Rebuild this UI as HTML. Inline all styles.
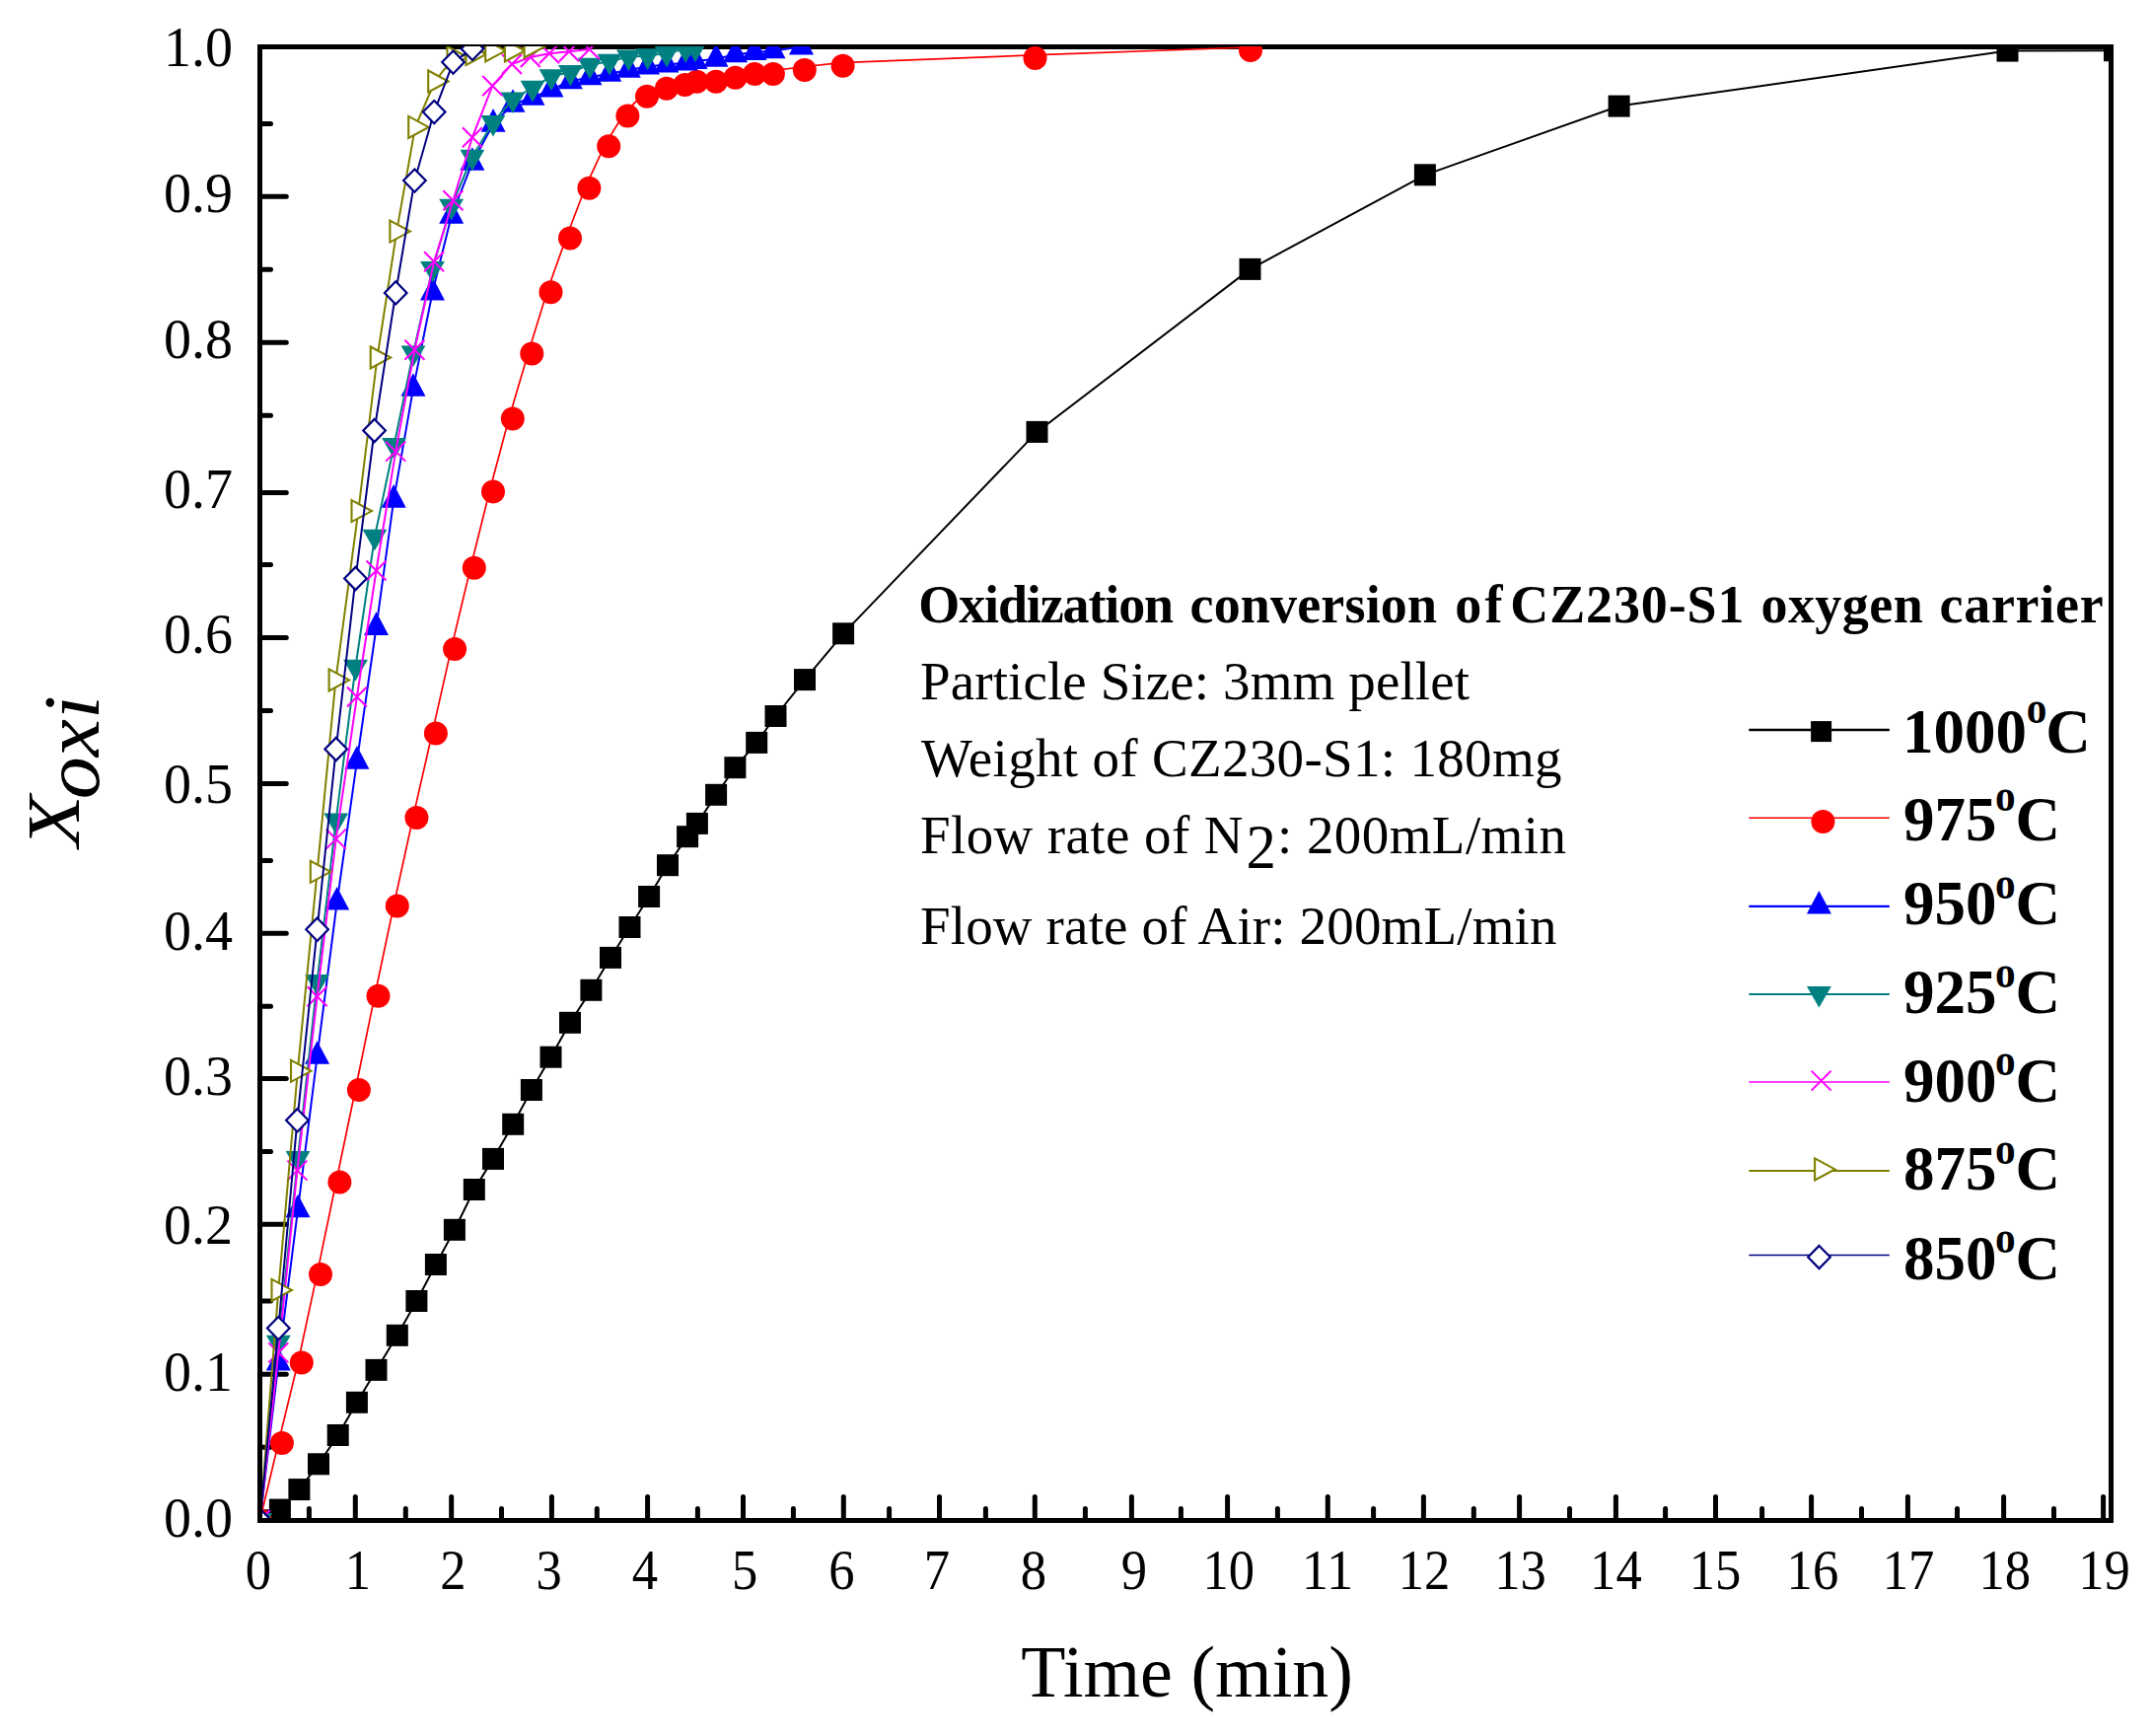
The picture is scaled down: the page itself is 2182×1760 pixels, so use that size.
<!DOCTYPE html>
<html lang="en"><head><meta charset="utf-8"><title>Oxidization conversion of CZ230-S1 oxygen carrier</title>
<style>html,body{margin:0;padding:0;background:#fff;overflow:hidden}svg{display:block}text{font-family:"Liberation Serif",serif;fill:#000}</style>
</head><body>
<svg width="2182" height="1760" viewBox="0 0 2182 1760">
<rect width="2182" height="1760" fill="#fff"/>
<g id="axes" stroke="#000" stroke-width="5" fill="none" shape-rendering="crispEdges">
<rect x="263.5" y="47.5" width="1877.0" height="1493.8"/>
</g>
<g id="ticks" stroke="#000" stroke-width="5" stroke-linecap="round" fill="none">
<path d="M360.3 1541.3V1517.5M457.7 1541.3V1517.5M559.4 1541.3V1517.5M656.6 1541.3V1517.5M753.5 1541.3V1517.5M855.3 1541.3V1517.5M952.5 1541.3V1517.5M1049.3 1541.3V1517.5M1147.4 1541.3V1517.5M1244.6 1541.3V1517.5M1346.3 1541.3V1517.5M1443.4 1541.3V1517.5M1540.6 1541.3V1517.5M1638.4 1541.3V1517.5M1739.5 1541.3V1517.5M1836.6 1541.3V1517.5M1934.4 1541.3V1517.5M2031.6 1541.3V1517.5M2132.6 1541.3V1517.5M313.4 1541.3V1529.5M411.3 1541.3V1529.5M508.5 1541.3V1529.5M605.3 1541.3V1529.5M707.4 1541.3V1529.5M804.4 1541.3V1529.5M901.6 1541.3V1529.5M999.4 1541.3V1529.5M1100.4 1541.3V1529.5M1197.4 1541.3V1529.5M1295.4 1541.3V1529.5M1392.6 1541.3V1529.5M1494.3 1541.3V1529.5M1591.5 1541.3V1529.5M1688.6 1541.3V1529.5M1786.6 1541.3V1529.5M1887.5 1541.3V1529.5M1984.5 1541.3V1529.5M2082.5 1541.3V1529.5M263.5 199.3H290.3M263.5 347.3H290.3M263.5 499.6H290.3M263.5 646.4H290.3M263.5 794.4H290.3M263.5 946.3H290.3M263.5 1093.6H290.3M263.5 1241.3H290.3M263.5 1393.3H290.3M263.5 125.5H274.5M263.5 273.3H274.5M263.5 421.3H274.5M263.5 572.4H274.5M263.5 720.6H274.5M263.5 872.5H274.5M263.5 1020.3H274.5M263.5 1167.5H274.5M263.5 1319H274.5M263.5 1467.3H274.5"/>
</g>
<g id="xlabels" font-size="56" text-anchor="middle">
<text x="261.9" y="1610.6" textLength="26.3" lengthAdjust="spacingAndGlyphs">0</text>
<text x="362.9" y="1610.6" textLength="26.3" lengthAdjust="spacingAndGlyphs">1</text>
<text x="459.3" y="1610.6" textLength="26.3" lengthAdjust="spacingAndGlyphs">2</text>
<text x="556.6" y="1610.6" textLength="26.3" lengthAdjust="spacingAndGlyphs">3</text>
<text x="654" y="1610.6" textLength="26.3" lengthAdjust="spacingAndGlyphs">4</text>
<text x="755.1" y="1610.6" textLength="26.3" lengthAdjust="spacingAndGlyphs">5</text>
<text x="853.3" y="1610.6" textLength="26.3" lengthAdjust="spacingAndGlyphs">6</text>
<text x="949.9" y="1610.6" textLength="26.3" lengthAdjust="spacingAndGlyphs">7</text>
<text x="1047.8" y="1610.6" textLength="26.3" lengthAdjust="spacingAndGlyphs">8</text>
<text x="1149.9" y="1610.6" textLength="26.3" lengthAdjust="spacingAndGlyphs">9</text>
<text x="1245.8" y="1610.6" textLength="52.6" lengthAdjust="spacingAndGlyphs">10</text>
<text x="1346.1" y="1610.6" textLength="52.6" lengthAdjust="spacingAndGlyphs">11</text>
<text x="1444.1" y="1610.6" textLength="52.6" lengthAdjust="spacingAndGlyphs">12</text>
<text x="1541.6" y="1610.6" textLength="52.6" lengthAdjust="spacingAndGlyphs">13</text>
<text x="1638.4" y="1610.6" textLength="52.6" lengthAdjust="spacingAndGlyphs">14</text>
<text x="1739.1" y="1610.6" textLength="52.6" lengthAdjust="spacingAndGlyphs">15</text>
<text x="1837.9" y="1610.6" textLength="52.6" lengthAdjust="spacingAndGlyphs">16</text>
<text x="1935" y="1610.6" textLength="52.6" lengthAdjust="spacingAndGlyphs">17</text>
<text x="2032.8" y="1610.6" textLength="52.6" lengthAdjust="spacingAndGlyphs">18</text>
<text x="2133.6" y="1610.6" textLength="52.6" lengthAdjust="spacingAndGlyphs">19</text>
</g>
<g id="ylabels" font-size="56" text-anchor="end">
<text x="236" y="67.1">1.0</text>
<text x="236" y="215.3">0.9</text>
<text x="236" y="363.3">0.8</text>
<text x="236" y="514.7">0.7</text>
<text x="236" y="662">0.6</text>
<text x="236" y="814.1">0.5</text>
<text x="236" y="962.7">0.4</text>
<text x="236" y="1109.9">0.3</text>
<text x="236" y="1261">0.2</text>
<text x="236" y="1409.6">0.1</text>
<text x="236" y="1558.2">0.0</text>
</g>
<text id="xtitle" x="1203.6" y="1720" font-size="74" text-anchor="middle">Time (min)</text>
<g id="ytitle" transform="translate(80.1,859) rotate(-90)" font-style="italic"><g transform="scale(1.12,1)"><text x="0" y="0" font-size="77">X</text></g><g transform="translate(48.8,19.9) scale(1.075,1)"><text x="0" y="0" font-size="80">oxi</text></g></g>
<defs><clipPath id="clip"><rect x="265.9" y="47.0" width="1872.1" height="1492.1"/></clipPath></defs>
<g id="data" clip-path="url(#clip)">
<polyline fill="none" stroke="#000" stroke-width="2.0" points="263.7,1541.3 283.9,1530.6 303.4,1510.1 323,1484.3 342.7,1455 361.9,1421.8 381.5,1388.9 402.8,1353.8 422.4,1319 441.9,1282 460.9,1246.8 480.8,1206 500,1174.9 520.2,1139.8 538.9,1105 558.5,1071.7 578,1036.8 599.4,1003.8 619,970.9 638.5,940 658.1,909 677,877.2 697.1,848.2 706.9,834.9 726.1,805.8 745.4,778.2 767.2,752.9 786.5,726 816,689.1 855.1,642.3 1051.5,437.9 1267.5,272.9 1444.9,177.3 1641.6,107.6 2035.5,51.6 2144,51.2"/>
<g><rect x="252.7" y="1530.3" width="22" height="22" fill="#000"/><rect x="272.9" y="1519.6" width="22" height="22" fill="#000"/><rect x="292.4" y="1499.1" width="22" height="22" fill="#000"/><rect x="312" y="1473.3" width="22" height="22" fill="#000"/><rect x="331.7" y="1444" width="22" height="22" fill="#000"/><rect x="350.9" y="1410.8" width="22" height="22" fill="#000"/><rect x="370.5" y="1377.9" width="22" height="22" fill="#000"/><rect x="391.8" y="1342.8" width="22" height="22" fill="#000"/><rect x="411.4" y="1308" width="22" height="22" fill="#000"/><rect x="430.9" y="1271" width="22" height="22" fill="#000"/><rect x="449.9" y="1235.8" width="22" height="22" fill="#000"/><rect x="469.8" y="1195" width="22" height="22" fill="#000"/><rect x="489" y="1163.9" width="22" height="22" fill="#000"/><rect x="509.2" y="1128.8" width="22" height="22" fill="#000"/><rect x="527.9" y="1094" width="22" height="22" fill="#000"/><rect x="547.5" y="1060.7" width="22" height="22" fill="#000"/><rect x="567" y="1025.8" width="22" height="22" fill="#000"/><rect x="588.4" y="992.8" width="22" height="22" fill="#000"/><rect x="608" y="959.9" width="22" height="22" fill="#000"/><rect x="627.5" y="929" width="22" height="22" fill="#000"/><rect x="647.1" y="898" width="22" height="22" fill="#000"/><rect x="666" y="866.2" width="22" height="22" fill="#000"/><rect x="686.1" y="837.2" width="22" height="22" fill="#000"/><rect x="695.9" y="823.9" width="22" height="22" fill="#000"/><rect x="715.1" y="794.8" width="22" height="22" fill="#000"/><rect x="734.4" y="767.2" width="22" height="22" fill="#000"/><rect x="756.2" y="741.9" width="22" height="22" fill="#000"/><rect x="775.5" y="715" width="22" height="22" fill="#000"/><rect x="805" y="678.1" width="22" height="22" fill="#000"/><rect x="844.1" y="631.3" width="22" height="22" fill="#000"/><rect x="1040.5" y="426.9" width="22" height="22" fill="#000"/><rect x="1256.5" y="261.9" width="22" height="22" fill="#000"/><rect x="1433.9" y="166.3" width="22" height="22" fill="#000"/><rect x="1630.6" y="96.6" width="22" height="22" fill="#000"/><rect x="2024.5" y="40.6" width="22" height="22" fill="#000"/><rect x="2133" y="40.2" width="22" height="22" fill="#000"/></g>
<polyline fill="none" stroke="#f00" stroke-width="1.7" points="263.7,1541.3 282.9,1460.1 302.8,1378.5 322,1289.1 341.4,1195.5 360.9,1102 380.5,1006.8 399.8,915.5 419.4,825.9 438.9,740.4 458.1,655.1 477.8,572.8 497,495.5 516.8,421.4 536.3,355.4 555.5,293.3 575,238.5 594.4,187.8 614.2,145.2 633.4,114.4 653,94.8 672.9,86.7 691.5,82.9 703.5,79.7 723,79.7 742.6,75.8 762.1,71.9 780.9,71.9 812.8,68 851.6,63.7 1046.5,55.9 1265,48"/>
<g><circle cx="263.7" cy="1541.3" r="12.0" fill="#f00"/><circle cx="285.9" cy="1463.1" r="12.0" fill="#f00"/><circle cx="305.8" cy="1381.5" r="12.0" fill="#f00"/><circle cx="325" cy="1292.1" r="12.0" fill="#f00"/><circle cx="344.4" cy="1198.5" r="12.0" fill="#f00"/><circle cx="363.9" cy="1105" r="12.0" fill="#f00"/><circle cx="383.5" cy="1009.8" r="12.0" fill="#f00"/><circle cx="402.8" cy="918.5" r="12.0" fill="#f00"/><circle cx="422.4" cy="828.9" r="12.0" fill="#f00"/><circle cx="441.9" cy="743.4" r="12.0" fill="#f00"/><circle cx="461.1" cy="658.1" r="12.0" fill="#f00"/><circle cx="480.8" cy="575.8" r="12.0" fill="#f00"/><circle cx="500" cy="498.5" r="12.0" fill="#f00"/><circle cx="519.8" cy="424.4" r="12.0" fill="#f00"/><circle cx="539.3" cy="358.4" r="12.0" fill="#f00"/><circle cx="558.5" cy="296.3" r="12.0" fill="#f00"/><circle cx="578" cy="241.5" r="12.0" fill="#f00"/><circle cx="597.4" cy="190.8" r="12.0" fill="#f00"/><circle cx="617.2" cy="148.2" r="12.0" fill="#f00"/><circle cx="636.4" cy="117.4" r="12.0" fill="#f00"/><circle cx="656" cy="97.8" r="12.0" fill="#f00"/><circle cx="675.9" cy="89.7" r="12.0" fill="#f00"/><circle cx="694.5" cy="85.9" r="12.0" fill="#f00"/><circle cx="706.5" cy="82.7" r="12.0" fill="#f00"/><circle cx="726" cy="82.7" r="12.0" fill="#f00"/><circle cx="745.6" cy="78.8" r="12.0" fill="#f00"/><circle cx="765.1" cy="74.9" r="12.0" fill="#f00"/><circle cx="783.9" cy="74.9" r="12.0" fill="#f00"/><circle cx="815.8" cy="71" r="12.0" fill="#f00"/><circle cx="854.6" cy="66.7" r="12.0" fill="#f00"/><circle cx="1049.5" cy="58.9" r="12.0" fill="#f00"/><circle cx="1268" cy="51" r="12.0" fill="#f00"/></g>
<polyline fill="none" stroke="#00f" stroke-width="2.0" points="263.7,1541.3 282.3,1381.6 302,1226.4 321.6,1070.9 341.7,914.6 361.9,771.8 381.5,636 399.2,506.8 419,393.9 438.5,296.5 457.7,218.9 478.9,164.9 500.1,125.8 520,105.9 540,98.8 559,90.6 578.4,82.4 598,78.3 617.8,74.8 637.3,70.9 656.6,67.6 675.9,65.6 695.2,63.7 705,62.1 726,59.8 745.6,55.3 765,53.1 784,51.4 812.5,47.5"/>
<g><path d="M263.7 1525.6L276.2 1549.2L251.2 1549.2Z" fill="#00f"/><path d="M282.3 1365.9L294.8 1389.5L269.8 1389.5Z" fill="#00f"/><path d="M302 1210.7L314.5 1234.3L289.5 1234.3Z" fill="#00f"/><path d="M321.6 1055.2L334.1 1078.8L309.1 1078.8Z" fill="#00f"/><path d="M341.7 898.9L354.2 922.5L329.2 922.5Z" fill="#00f"/><path d="M361.9 756.1L374.4 779.7L349.4 779.7Z" fill="#00f"/><path d="M381.5 620.3L394 643.9L369 643.9Z" fill="#00f"/><path d="M399.2 491.1L411.7 514.7L386.7 514.7Z" fill="#00f"/><path d="M419 378.2L431.5 401.8L406.5 401.8Z" fill="#00f"/><path d="M438.5 280.8L451 304.4L426 304.4Z" fill="#00f"/><path d="M457.7 203.2L470.2 226.8L445.2 226.8Z" fill="#00f"/><path d="M478.9 149.2L491.4 172.8L466.4 172.8Z" fill="#00f"/><path d="M500.1 110.1L512.6 133.7L487.6 133.7Z" fill="#00f"/><path d="M520 90.2L532.5 113.8L507.5 113.8Z" fill="#00f"/><path d="M540 83.1L552.5 106.7L527.5 106.7Z" fill="#00f"/><path d="M559 74.9L571.5 98.5L546.5 98.5Z" fill="#00f"/><path d="M578.4 66.7L590.9 90.3L565.9 90.3Z" fill="#00f"/><path d="M598 62.6L610.5 86.2L585.5 86.2Z" fill="#00f"/><path d="M617.8 59.1L630.3 82.7L605.3 82.7Z" fill="#00f"/><path d="M637.3 55.2L649.8 78.8L624.8 78.8Z" fill="#00f"/><path d="M656.6 51.9L669.1 75.5L644.1 75.5Z" fill="#00f"/><path d="M675.9 49.9L688.4 73.5L663.4 73.5Z" fill="#00f"/><path d="M695.2 48L707.7 71.6L682.7 71.6Z" fill="#00f"/><path d="M705 46.4L717.5 70L692.5 70Z" fill="#00f"/><path d="M726 44.1L738.5 67.7L713.5 67.7Z" fill="#00f"/><path d="M745.6 39.6L758.1 63.2L733.1 63.2Z" fill="#00f"/><path d="M765 37.4L777.5 61L752.5 61Z" fill="#00f"/><path d="M784 35.7L796.5 59.3L771.5 59.3Z" fill="#00f"/><path d="M812.5 31.8L825 55.4L800 55.4Z" fill="#00f"/></g>
<polyline fill="none" stroke="#008080" stroke-width="2.0" points="263.7,1541.3 282.3,1361 302,1174.3 321.6,995.2 340.7,831.8 360.5,676 380,543.9 399.6,451.3 419,357.6 438.5,272.1 457.6,209 478.9,158.9 500,124.1 520,100.7 540,89 559,77.5 578.4,73.1 598,65.9 618,62 637.4,57.8 656.6,56.5 676,54 695.2,49.5 705,48.8"/>
<g><path d="M251.3 1534.1L276.1 1534.1L263.7 1555.7Z" fill="#008080"/><path d="M269.9 1353.8L294.7 1353.8L282.3 1375.4Z" fill="#008080"/><path d="M289.6 1167.1L314.4 1167.1L302 1188.7Z" fill="#008080"/><path d="M309.2 988L334 988L321.6 1009.6Z" fill="#008080"/><path d="M328.3 824.6L353.1 824.6L340.7 846.2Z" fill="#008080"/><path d="M348.1 668.8L372.9 668.8L360.5 690.4Z" fill="#008080"/><path d="M367.6 536.7L392.4 536.7L380 558.3Z" fill="#008080"/><path d="M387.2 444.1L412 444.1L399.6 465.7Z" fill="#008080"/><path d="M406.6 350.4L431.4 350.4L419 372Z" fill="#008080"/><path d="M426.1 264.9L450.9 264.9L438.5 286.5Z" fill="#008080"/><path d="M445.2 201.8L470 201.8L457.6 223.4Z" fill="#008080"/><path d="M466.5 151.7L491.3 151.7L478.9 173.3Z" fill="#008080"/><path d="M487.6 116.9L512.4 116.9L500 138.5Z" fill="#008080"/><path d="M507.6 93.5L532.4 93.5L520 115.1Z" fill="#008080"/><path d="M527.6 81.8L552.4 81.8L540 103.4Z" fill="#008080"/><path d="M546.6 70.3L571.4 70.3L559 91.9Z" fill="#008080"/><path d="M566 65.9L590.8 65.9L578.4 87.5Z" fill="#008080"/><path d="M585.6 58.7L610.4 58.7L598 80.3Z" fill="#008080"/><path d="M605.6 54.8L630.4 54.8L618 76.4Z" fill="#008080"/><path d="M625 50.6L649.8 50.6L637.4 72.2Z" fill="#008080"/><path d="M644.2 49.3L669 49.3L656.6 70.9Z" fill="#008080"/><path d="M663.6 46.8L688.4 46.8L676 68.4Z" fill="#008080"/><path d="M682.8 42.3L707.6 42.3L695.2 63.9Z" fill="#008080"/><path d="M692.6 41.6L717.4 41.6L705 63.2Z" fill="#008080"/></g>
<polyline fill="none" stroke="#f0f" stroke-width="2.0" points="263.7,1541.3 282.3,1371.4 301.4,1186.6 321.6,1010.2 340.7,850.6 361.9,706.5 381.5,578.5 401.2,457.6 420.4,354.8 440.1,265.3 459.4,203.2 478.9,139.3 499.3,87 519,65 537.8,58 557,54.2 577,52.2 597.7,50"/>
<g><path d="M253.7 1531.3L273.7 1551.3M253.7 1551.3L273.7 1531.3" stroke="#f0f" stroke-width="2" fill="none"/><path d="M272.3 1361.4L292.3 1381.4M272.3 1381.4L292.3 1361.4" stroke="#f0f" stroke-width="2" fill="none"/><path d="M291.4 1176.6L311.4 1196.6M291.4 1196.6L311.4 1176.6" stroke="#f0f" stroke-width="2" fill="none"/><path d="M311.6 1000.2L331.6 1020.2M311.6 1020.2L331.6 1000.2" stroke="#f0f" stroke-width="2" fill="none"/><path d="M330.7 840.6L350.7 860.6M330.7 860.6L350.7 840.6" stroke="#f0f" stroke-width="2" fill="none"/><path d="M351.9 696.5L371.9 716.5M351.9 716.5L371.9 696.5" stroke="#f0f" stroke-width="2" fill="none"/><path d="M371.5 568.5L391.5 588.5M371.5 588.5L391.5 568.5" stroke="#f0f" stroke-width="2" fill="none"/><path d="M391.2 447.6L411.2 467.6M391.2 467.6L411.2 447.6" stroke="#f0f" stroke-width="2" fill="none"/><path d="M410.4 344.8L430.4 364.8M410.4 364.8L430.4 344.8" stroke="#f0f" stroke-width="2" fill="none"/><path d="M430.1 255.3L450.1 275.3M430.1 275.3L450.1 255.3" stroke="#f0f" stroke-width="2" fill="none"/><path d="M449.4 193.2L469.4 213.2M449.4 213.2L469.4 193.2" stroke="#f0f" stroke-width="2" fill="none"/><path d="M468.9 129.3L488.9 149.3M468.9 149.3L488.9 129.3" stroke="#f0f" stroke-width="2" fill="none"/><path d="M489.3 77L509.3 97M489.3 97L509.3 77" stroke="#f0f" stroke-width="2" fill="none"/><path d="M509 55L529 75M509 75L529 55" stroke="#f0f" stroke-width="2" fill="none"/><path d="M527.8 48L547.8 68M527.8 68L547.8 48" stroke="#f0f" stroke-width="2" fill="none"/><path d="M547 44.2L567 64.2M547 64.2L567 44.2" stroke="#f0f" stroke-width="2" fill="none"/><path d="M567 42.2L587 62.2M567 62.2L587 42.2" stroke="#f0f" stroke-width="2" fill="none"/><path d="M587.7 40L607.7 60M587.7 60L607.7 40" stroke="#f0f" stroke-width="2" fill="none"/></g>
<polyline fill="none" stroke="#808000" stroke-width="2.0" points="263.7,1541.3 282.3,1307.9 301.8,1085.8 321.6,883.8 340.4,689.4 363.3,518.1 382.5,362.5 402.2,234.6 421,128.9 441,82.5 460.3,58 479.3,55 499,51.5 518.7,51.5 538.4,47.4"/>
<g><path d="M256.9 1530.3L277.3 1541.3L256.9 1552.3Z" stroke="#808000" stroke-width="2.1" fill="#fff" stroke-linejoin="miter"/><path d="M275.5 1296.9L295.9 1307.9L275.5 1318.9Z" stroke="#808000" stroke-width="2.1" fill="#fff" stroke-linejoin="miter"/><path d="M295 1074.8L315.4 1085.8L295 1096.8Z" stroke="#808000" stroke-width="2.1" fill="#fff" stroke-linejoin="miter"/><path d="M314.8 872.8L335.2 883.8L314.8 894.8Z" stroke="#808000" stroke-width="2.1" fill="#fff" stroke-linejoin="miter"/><path d="M333.6 678.4L354 689.4L333.6 700.4Z" stroke="#808000" stroke-width="2.1" fill="#fff" stroke-linejoin="miter"/><path d="M356.5 507.1L376.9 518.1L356.5 529.1Z" stroke="#808000" stroke-width="2.1" fill="#fff" stroke-linejoin="miter"/><path d="M375.7 351.5L396.1 362.5L375.7 373.5Z" stroke="#808000" stroke-width="2.1" fill="#fff" stroke-linejoin="miter"/><path d="M395.4 223.6L415.8 234.6L395.4 245.6Z" stroke="#808000" stroke-width="2.1" fill="#fff" stroke-linejoin="miter"/><path d="M414.2 117.9L434.6 128.9L414.2 139.9Z" stroke="#808000" stroke-width="2.1" fill="#fff" stroke-linejoin="miter"/><path d="M434.2 71.5L454.6 82.5L434.2 93.5Z" stroke="#808000" stroke-width="2.1" fill="#fff" stroke-linejoin="miter"/><path d="M453.5 47L473.9 58L453.5 69Z" stroke="#808000" stroke-width="2.1" fill="#fff" stroke-linejoin="miter"/><path d="M472.5 44L492.9 55L472.5 66Z" stroke="#808000" stroke-width="2.1" fill="#fff" stroke-linejoin="miter"/><path d="M492.2 40.5L512.6 51.5L492.2 62.5Z" stroke="#808000" stroke-width="2.1" fill="#fff" stroke-linejoin="miter"/><path d="M511.9 40.5L532.3 51.5L511.9 62.5Z" stroke="#808000" stroke-width="2.1" fill="#fff" stroke-linejoin="miter"/><path d="M531.6 36.4L552 47.4L531.6 58.4Z" stroke="#808000" stroke-width="2.1" fill="#fff" stroke-linejoin="miter"/></g>
<polyline fill="none" stroke="#000080" stroke-width="2.0" points="263.7,1541.3 282.3,1346.6 301.4,1135.8 321.6,942.3 340.7,759.5 360.5,586.5 379.6,436.5 401.2,296.9 420.4,183.1 440.2,113.6 459.5,63.1 479,49.4"/>
<g><path d="M263.7 1529.7L275 1541.3L263.7 1552.9L252.4 1541.3Z" stroke="#000080" stroke-width="2.2" fill="#fff"/><path d="M282.3 1335L293.6 1346.6L282.3 1358.2L271 1346.6Z" stroke="#000080" stroke-width="2.2" fill="#fff"/><path d="M301.4 1124.2L312.7 1135.8L301.4 1147.4L290.1 1135.8Z" stroke="#000080" stroke-width="2.2" fill="#fff"/><path d="M321.6 930.7L332.9 942.3L321.6 953.9L310.3 942.3Z" stroke="#000080" stroke-width="2.2" fill="#fff"/><path d="M340.7 747.9L352 759.5L340.7 771.1L329.4 759.5Z" stroke="#000080" stroke-width="2.2" fill="#fff"/><path d="M360.5 574.9L371.8 586.5L360.5 598.1L349.2 586.5Z" stroke="#000080" stroke-width="2.2" fill="#fff"/><path d="M379.6 424.9L390.9 436.5L379.6 448.1L368.3 436.5Z" stroke="#000080" stroke-width="2.2" fill="#fff"/><path d="M401.2 285.3L412.5 296.9L401.2 308.5L389.9 296.9Z" stroke="#000080" stroke-width="2.2" fill="#fff"/><path d="M420.4 171.5L431.7 183.1L420.4 194.7L409.1 183.1Z" stroke="#000080" stroke-width="2.2" fill="#fff"/><path d="M440.2 102L451.5 113.6L440.2 125.2L428.9 113.6Z" stroke="#000080" stroke-width="2.2" fill="#fff"/><path d="M459.5 51.5L470.8 63.1L459.5 74.7L448.2 63.1Z" stroke="#000080" stroke-width="2.2" fill="#fff"/><path d="M479 37.8L490.3 49.4L479 61L467.7 49.4Z" stroke="#000080" stroke-width="2.2" fill="#fff"/></g>
</g>
<g id="notes" font-size="55">
<g font-weight="bold" font-size="54">
<text x="931.3" y="630.8" textLength="258.8" lengthAdjust="spacing">Oxidization</text>
<text x="1206.6" y="630.8" textLength="250.4" lengthAdjust="spacing">conversion</text>
<text x="1475.2" y="630.8" textLength="48.2" lengthAdjust="spacing">of</text>
<text x="1531.3" y="630.8" textLength="237.1" lengthAdjust="spacing">CZ230-S1</text>
<text x="1785.4" y="630.8" textLength="164.4" lengthAdjust="spacing">oxygen</text>
<text x="1966.5" y="630.8" textLength="166.2" lengthAdjust="spacing">carrier</text>
</g>
<text x="933" y="708.9" textLength="557" lengthAdjust="spacing">Particle Size: 3mm pellet</text>
<text x="934" y="786.9" textLength="649.5" lengthAdjust="spacing">Weight of CZ230-S1: 180mg</text>
<text x="933" y="864.5" textLength="327.5" lengthAdjust="spacing">Flow rate of N</text>
<text x="1263.5" y="880" font-size="64" textLength="30.4" lengthAdjust="spacingAndGlyphs">2</text>
<text x="1295" y="864.5" textLength="293" lengthAdjust="spacing">: 200mL/min</text>
<text x="933" y="957.2" textLength="645.5" lengthAdjust="spacing">Flow rate of Air: 200mL/min</text>
</g>
<g id="legend">
<path d="M1773.3 740H1915.8" stroke="#000" stroke-width="2.4" fill="none"/>
<rect x="1836.1" y="731.1" width="21" height="21" fill="#000"/>
<g font-weight="bold" font-size="63"><text x="1929.1" y="762.8">1000</text><text x="2054.8" y="733.2" font-size="46" textLength="20.6" lengthAdjust="spacingAndGlyphs">o</text><text x="2074.3" y="762.8">C</text></g>
<path d="M1773.3 829.3H1915.8" stroke="#f00" stroke-width="1.5" fill="none"/>
<circle cx="1848.4" cy="833" r="12.0" fill="#f00"/>
<g font-weight="bold" font-size="63"><text x="1930" y="852.1">975</text><text x="2023" y="822.1" font-size="46" textLength="20.6" lengthAdjust="spacingAndGlyphs">o</text><text x="2043.5" y="852.1">C</text></g>
<path d="M1773.3 918.9H1915.8" stroke="#00f" stroke-width="2.4" fill="none"/>
<path d="M1844.4 903L1856.9 926.6L1831.9 926.6Z" fill="#00f"/>
<g font-weight="bold" font-size="63"><text x="1930" y="937.1">950</text><text x="2023" y="911.1" font-size="46" textLength="20.6" lengthAdjust="spacingAndGlyphs">o</text><text x="2043.5" y="937.1">C</text></g>
<path d="M1773.3 1007.9H1915.8" stroke="#008080" stroke-width="2.0" fill="none"/>
<path d="M1832 1000L1856.8 1000L1844.4 1021.6Z" fill="#008080"/>
<g font-weight="bold" font-size="63"><text x="1930" y="1027.4">925</text><text x="2023" y="1000.5" font-size="46" textLength="20.6" lengthAdjust="spacingAndGlyphs">o</text><text x="2043.5" y="1027.4">C</text></g>
<path d="M1773.3 1097H1915.8" stroke="#f0f" stroke-width="1.5" fill="none"/>
<path d="M1836.6 1085.6L1856.6 1105.6M1836.6 1105.6L1856.6 1085.6" stroke="#f0f" stroke-width="2" fill="none"/>
<g font-weight="bold" font-size="63"><text x="1930" y="1116.5">900</text><text x="2023" y="1090.4" font-size="46" textLength="20.6" lengthAdjust="spacingAndGlyphs">o</text><text x="2043.5" y="1116.5">C</text></g>
<path d="M1773.3 1187H1915.8" stroke="#808000" stroke-width="2.0" fill="none"/>
<path d="M1840.1 1174.4L1860.5 1185.4L1840.1 1196.4Z" stroke="#808000" stroke-width="2.1" fill="#fff" stroke-linejoin="miter"/>
<g font-weight="bold" font-size="63"><text x="1930" y="1206">875</text><text x="2023" y="1180.2" font-size="46" textLength="20.6" lengthAdjust="spacingAndGlyphs">o</text><text x="2043.5" y="1206">C</text></g>
<path d="M1773.3 1272.4H1915.8" stroke="#000080" stroke-width="1.5" fill="none"/>
<path d="M1844.5 1262.9L1855.8 1274.5L1844.5 1286.1L1833.2 1274.5Z" stroke="#000080" stroke-width="2.2" fill="#fff"/>
<g font-weight="bold" font-size="63"><text x="1930" y="1296.8">850</text><text x="2023" y="1269.5" font-size="46" textLength="20.6" lengthAdjust="spacingAndGlyphs">o</text><text x="2043.5" y="1296.8">C</text></g>
</g>
</svg></body></html>
